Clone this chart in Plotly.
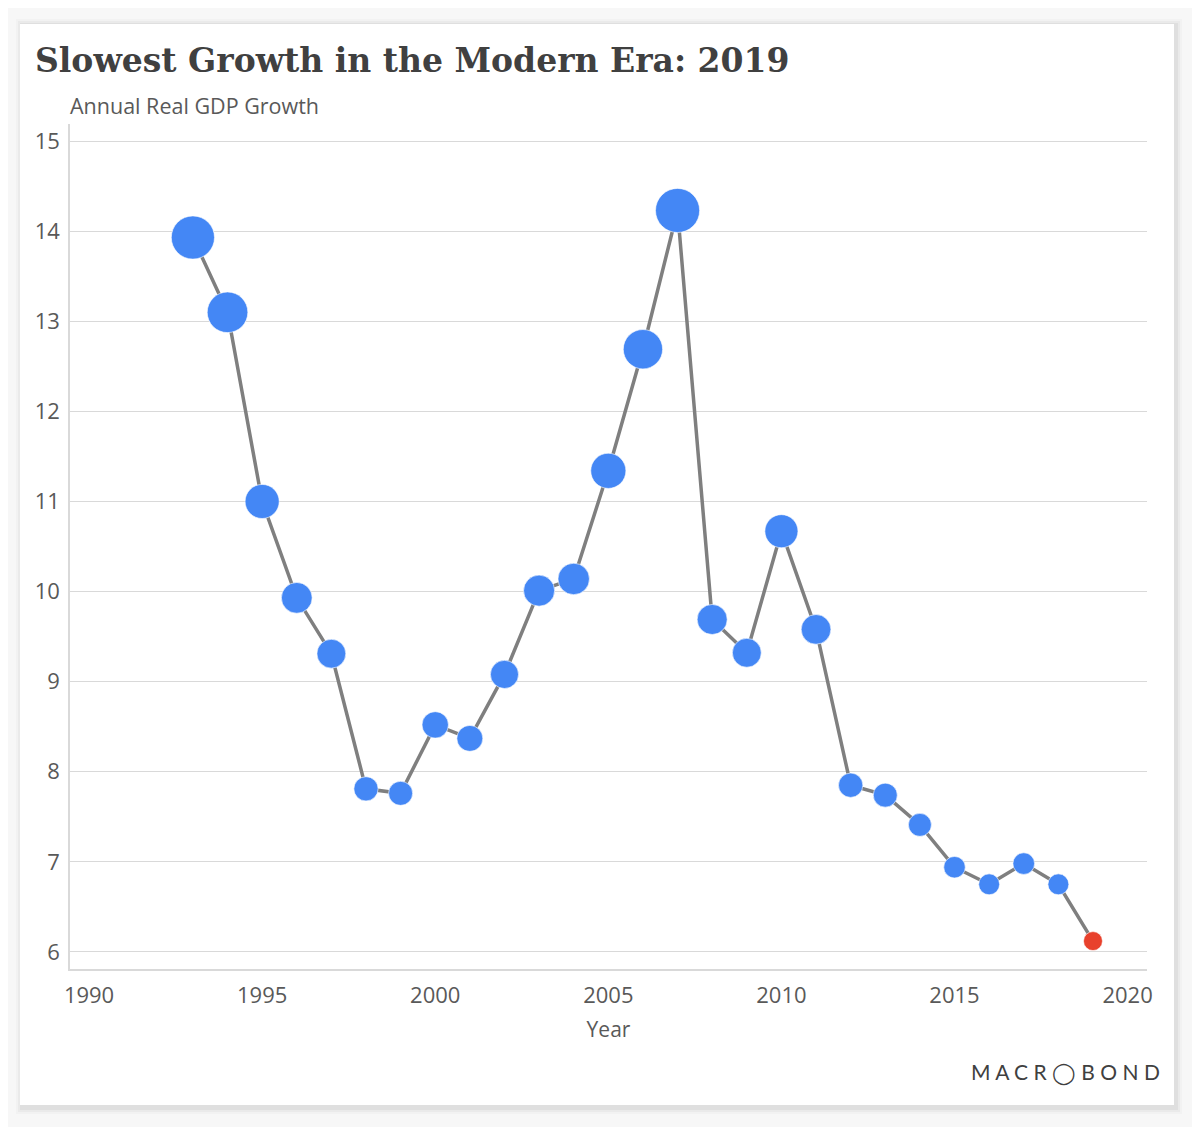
import plotly.graph_objects as go

years = list(range(1993, 2020))
growth = [13.93, 13.10, 11.00, 9.93, 9.31, 7.81, 7.76, 8.52, 8.37, 9.08,
          10.01, 10.14, 11.34, 12.69, 14.23, 9.69, 9.32, 10.67, 9.58, 7.85,
          7.74, 7.41, 6.94, 6.75, 6.98, 6.75, 6.12]
x_ticks = [1990, 1995, 2000, 2005, 2010, 2015, 2020]
y_ticks = [6, 7, 8, 9, 10, 11, 12, 13, 14, 15]

BLUE = "#4487f5"
RED = "#e8412c"
colors = [BLUE] * (len(years) - 1) + [RED]
sizes = [v * 3.1 for v in growth]

OFF = 8  # page offset of the figure (body margin)
W, H = 1200 - OFF, 1127 - OFF
# plot area in page pixels: x 70..1147, y 124..969
L, R, T, B = 70 - OFF, W - (1147 - OFF), 124 - OFF, H - (969 - OFF)
pw, ph = W - L - R, H - T - B

def px(xp):
    return (xp - OFF - L) / pw

def py(yp):
    return (H - B - (yp - OFF)) / ph

fig = go.Figure()
fig.add_trace(go.Scatter(
    x=years, y=growth, mode="lines",
    line=dict(color="#7f7f7f", width=3.5),
    hoverinfo="skip", showlegend=False,
))
fig.add_trace(go.Scatter(
    x=years, y=growth, mode="markers",
    marker=dict(size=sizes, color=colors, sizemode="diameter",
                line=dict(color="rgba(255,255,255,0.6)", width=1), opacity=1),
    showlegend=False,
))

shapes = []
# soft shadow
for i, a in enumerate([0.02, 0.03, 0.045]):
    d = 6 - 2 * i
    shapes.append(dict(type="rect", xref="paper", yref="paper", layer="below",
                       x0=px(20 - d + 2), x1=px(1174 + d + 2),
                       y0=py(1105 + d + 3), y1=py(24 - d + 1),
                       fillcolor=f"rgba(0,0,0,{a})", line=dict(width=0)))
shapes.append(dict(type="rect", xref="paper", yref="paper", layer="below",
                   x0=px(20), x1=px(1174), y0=py(1105), y1=py(24),
                   fillcolor="white", line=dict(width=0)))

font_sans = "Open Sans, Lato, sans-serif"

fig.update_layout(
    width=W, height=H,
    margin=dict(l=L, r=R, t=T, b=B, pad=0),
    paper_bgcolor="#f7f7f7",
    plot_bgcolor="rgba(0,0,0,0)",
    shapes=shapes,
    font=dict(family=font_sans, color="#595959"),
    xaxis=dict(
        range=[1989.45, 2020.56], tickvals=x_ticks, ticktext=[str(t) for t in x_ticks],
        showgrid=False, zeroline=False, showline=True, linecolor="#d9d9d9", linewidth=1.5,
        ticks="", ticklabelstandoff=6, tickfont=dict(size=22, color="#595959"),
        title=dict(text="Year", font=dict(size=21, color="#595959"), standoff=14),
    ),
    yaxis=dict(
        range=[5.81, 15.19], tickvals=y_ticks, ticktext=[str(t) for t in y_ticks],
        showgrid=True, gridcolor="#d9d9d9", gridwidth=1.2, zeroline=False,
        showline=True, linecolor="#d9d9d9", linewidth=1.5,
        ticks="", ticklabelstandoff=4, tickfont=dict(size=22, color="#595959"),
    ),
    annotations=[
        dict(text="<b>Slowest Growth in the Modern Era: 2019</b>", xref="paper", yref="paper",
             x=px(33), y=py(60), xanchor="left", yanchor="middle", showarrow=False,
             font=dict(family="DejaVu Serif, Liberation Serif, serif", size=33, color="#404040")),
        dict(text="Annual Real GDP Growth", xref="paper", yref="paper",
             x=px(68), y=py(105), xanchor="left", yanchor="middle", showarrow=False,
             font=dict(family=font_sans, size=21.5, color="#595959")),
        dict(text="M A C R ◯ B O N D", xref="paper", yref="paper",
             x=px(1162), y=py(1072), xanchor="right", yanchor="middle", showarrow=False,
             font=dict(family="Lato, sans-serif", size=21, color="#404040")),
    ],
)

fig.write_html("out.html")
